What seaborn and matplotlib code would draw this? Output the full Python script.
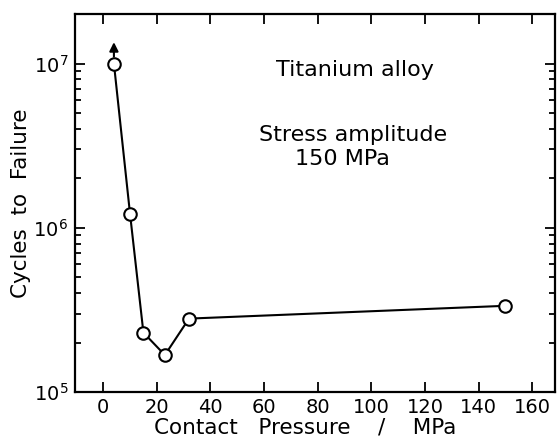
import numpy as np
import pandas as pd
import matplotlib
matplotlib.use("Agg")
import matplotlib.pyplot as plt
from matplotlib.ticker import LogLocator, NullFormatter
import seaborn as sns

# ---- data ----
contact_pressure = [4, 10, 15, 23, 32, 150]          # MPa
cycles_to_failure = [1.0e7, 1.22e6, 2.3e5, 1.68e5, 2.8e5, 3.35e5]
runout_arrow_top = 1.35e7                             # arrow tip for run-out point
x_ticks = [0, 20, 40, 60, 80, 100, 120, 140, 160]

df = pd.DataFrame({"pressure": contact_pressure, "cycles": cycles_to_failure})

sns.set_theme(style="ticks")
plt.rcParams["font.family"] = ["DejaVu Sans"]
plt.rcParams["text.color"] = "black"
plt.rcParams["axes.labelcolor"] = "black"

fig = plt.figure(figsize=(5.57, 4.41), dpi=100)
ax = fig.add_axes([0.1347, 0.111, 0.8618, 0.857])

sns.lineplot(data=df, x="pressure", y="cycles", ax=ax, color="black",
             linewidth=1.5, marker="o", markersize=9, markerfacecolor="white",
             markeredgecolor="black", markeredgewidth=1.5, sort=False)

ax.annotate("", xy=(contact_pressure[0], runout_arrow_top),
            xytext=(contact_pressure[0], cycles_to_failure[0]),
            arrowprops=dict(arrowstyle="-|>", color="black", lw=1.5,
                            shrinkA=5, shrinkB=0, mutation_scale=13))

ax.set_yscale("log")
ax.set_ylim(1e5, 2.0e7)
ax.set_xlim(-10.5, 168.5)
ax.set_xticks(x_ticks)
ax.yaxis.set_major_locator(LogLocator(base=10, numticks=10))
ax.yaxis.set_minor_locator(LogLocator(base=10, subs=np.arange(2, 10), numticks=20))
ax.yaxis.set_minor_formatter(NullFormatter())

ax.tick_params(axis="both", which="both", direction="in", top=True, right=True,
               width=1.3, colors="black", labelsize=14)
ax.tick_params(axis="both", which="major", length=7, pad=5)
ax.tick_params(axis="x", which="major", pad=4)
ax.tick_params(axis="y", which="minor", length=4)

for s in ax.spines.values():
    s.set_linewidth(1.6)
    s.set_color("black")

ax.set_xlabel("Contact   Pressure    /    MPa", fontsize=15.5, labelpad=1, x=0.48)
ax.set_ylabel("Cycles  to  Failure", fontsize=15.5, labelpad=2)

ax.text(0.583, 0.852, "Titanium alloy", transform=ax.transAxes,
        ha="center", va="center", fontsize=16)
ax.text(0.579, 0.68, "Stress amplitude", transform=ax.transAxes,
        ha="center", va="center", fontsize=16)
ax.text(0.558, 0.617, "150 MPa", transform=ax.transAxes,
        ha="center", va="center", fontsize=16)

fig.savefig("out.png", dpi=100)
